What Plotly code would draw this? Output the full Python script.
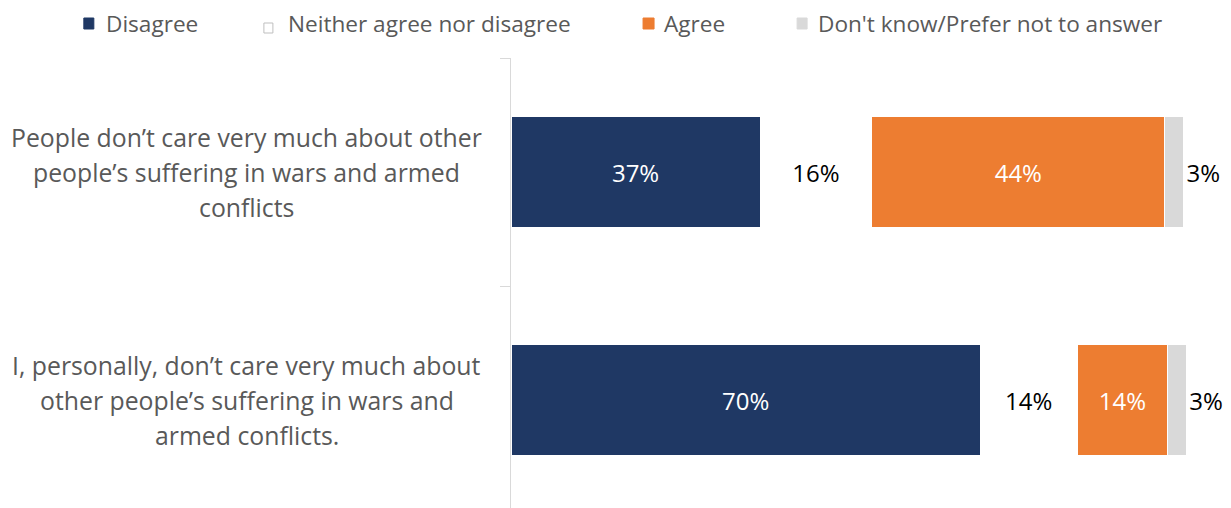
import plotly.graph_objects as go

# ---- data ----
categories = [
    "People don't care very much about other people's suffering in wars and armed conflicts",
    "I, personally, don't care very much about other people's suffering in wars and armed conflicts.",
]
category_lines = [
    ["People don\u2019t care very much about other", "people\u2019s suffering in wars and armed", "conflicts"],
    ["I, personally, don\u2019t care very much about", "other people\u2019s suffering in wars and", "armed conflicts."],
]
series_names = ["Disagree", "Neither agree nor disagree", "Agree", "Don't know/Prefer not to answer"]
disagree = [37.0, 69.7]
neither = [16.6, 14.4]
agree = [43.5, 13.4]
dont_know = [2.8, 2.8]
disagree_labels = ["37%", "70%"]
neither_labels = ["16%", "14%"]
agree_labels = ["44%", "14%"]
dont_know_labels = ["3%", "3%"]

# ---- styling ----
OX, OY = 8, 8            # page body margin offset
W, H = 1231 - OX, 508 - OY
PX_PER_UNIT = 6.73
XMAX = 101
PLOT_L = 511 - OX
PLOT_R = PLOT_L + XMAX * PX_PER_UNIT
L, R, T, B = PLOT_L, W - PLOT_R, 58 - OY, 0
FONT = "Open Sans"
GRAY_TXT = "#595959"
colors = ["#1F3864", "#FFFFFF", "#ED7D31", "#D9D9D9"]

def px2x(px):
    return (px - OX - L) / (W - L - R)

def py2y(py):
    return (H - B - (py - OY)) / (H - T - B)

fig = go.Figure()
series = [
    (disagree, disagree_labels, "inside", "white"),
    (neither, neither_labels, "inside", "black"),
    (agree, agree_labels, "inside", "white"),
    (dont_know, dont_know_labels, "outside", "black"),
]
for name, col, (vals, labs, pos, tcol) in zip(series_names, colors, series):
    fig.add_trace(go.Bar(
        name=name, y=categories, x=vals, orientation="h",
        marker=dict(color=col, line=dict(color="white", width=1)),
        text=labs, textposition=pos, insidetextanchor="middle",
        textfont=dict(family=FONT, size=24, color=tcol),
        constraintext="none", cliponaxis=False, showlegend=False,
        hoverinfo="skip",
    ))

annotations = []
shapes = []
# category labels (centered multi-line)
for cat, lines in zip(categories, category_lines):
    n = len(lines)
    for i, line in enumerate(lines):
        annotations.append(dict(
            x=px2x(247), xref="paper", y=cat, yref="y",
            yshift=(n - 1) / 2 * 35 - i * 35,
            text=line, showarrow=False, xanchor="center", yanchor="middle",
            font=dict(family=FONT, size=24.8, color=GRAY_TXT),
        ))

# manual legend
legend_items = [
    (84, 94, 18, 29, 104, colors[0], colors[0]),
    (264, 273, 23, 33, 286, "#FFFFFF", "#BFBFBF"),
    (643, 654, 18, 29, 662, colors[2], colors[2]),
    (797, 807, 18, 29, 816, colors[3], colors[3]),
]
for name, (x0, x1, y0, y1, tx, fill, line) in zip(series_names, legend_items):
    shapes.append(dict(
        type="rect", xref="paper", yref="paper",
        x0=px2x(x0), x1=px2x(x1), y0=py2y(y1), y1=py2y(y0),
        fillcolor=fill, line=dict(color=line, width=1),
    ))
    annotations.append(dict(
        x=px2x(tx), xref="paper", y=py2y(24), yref="paper",
        text=name, showarrow=False, xanchor="left", yanchor="middle",
        font=dict(family=FONT, size=22.6, color=GRAY_TXT),
    ))

fig.update_layout(
    width=W, height=H,
    margin=dict(l=L, r=R, t=T, b=B, pad=0),
    barmode="stack", bargap=0.515,
    plot_bgcolor="white", paper_bgcolor="white",
    annotations=annotations, shapes=shapes,
    xaxis=dict(range=[0, XMAX], visible=False, fixedrange=True),
    yaxis=dict(
        type="category", categoryorder="array", categoryarray=categories,
        range=[-0.5 + (H - T - B) / 228, -0.5],
        showticklabels=False, showline=True, linecolor="#D9D9D9", linewidth=1,
        ticks="outside", tickson="boundaries", ticklen=10, tickcolor="#D9D9D9",
        showgrid=False, zeroline=False, fixedrange=True,
    ),
)

fig.write_html("out.html")
